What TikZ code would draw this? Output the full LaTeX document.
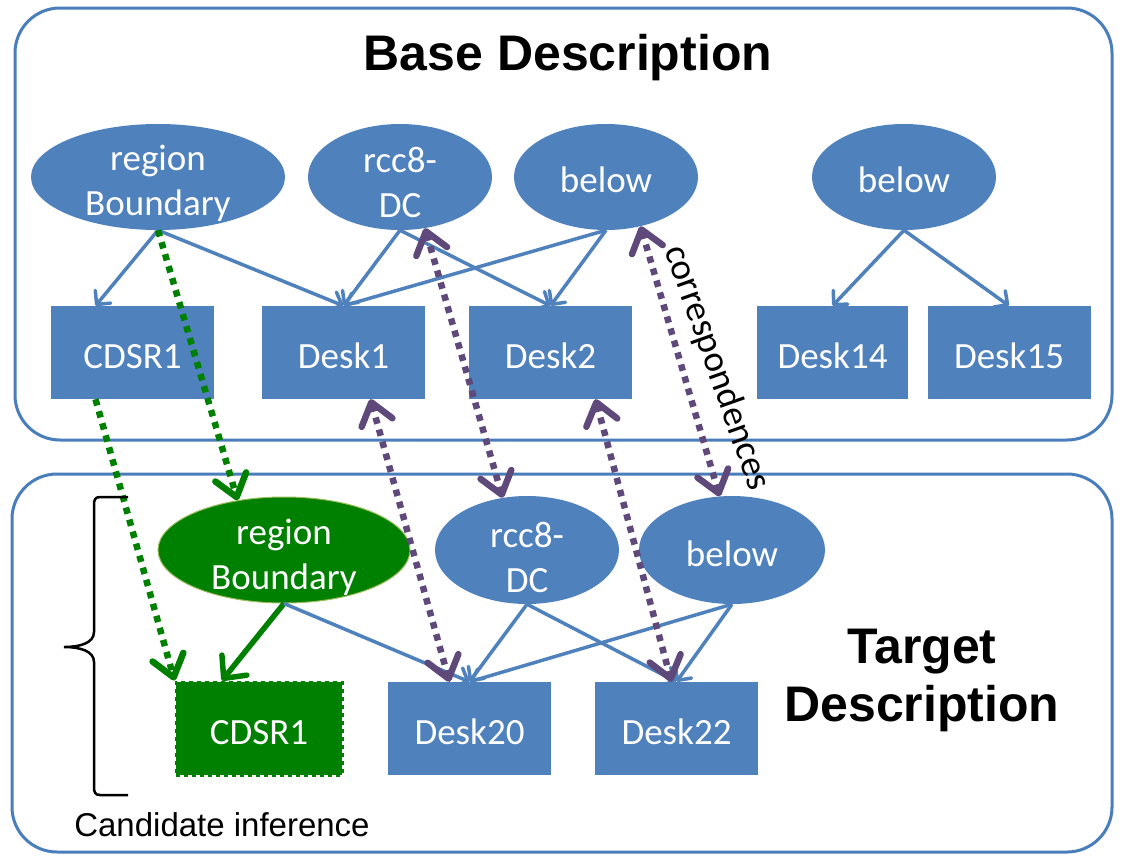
\documentclass[tikz,border=0pt]{standalone}
\usepackage{fontspec}
\setmainfont{Carlito}
\newfontfamily\arialf{Liberation Sans}
\usetikzlibrary{shapes.geometric,arrows.meta,calc}
\definecolor{nblue}{HTML}{4F81BD}
\definecolor{bline}{HTML}{4A7EBB}
\definecolor{npurple}{HTML}{5F497A}
\definecolor{ngreen}{HTML}{008000}
\definecolor{gborder}{HTML}{9BBB59}
\begin{document}
\begin{tikzpicture}[x=1pt,y=-1pt,
 ell/.style={ellipse, fill=nblue, text=white, inner sep=-8pt, minimum width=184pt, minimum height=106pt, align=center, font=\fontsize{37}{45}\selectfont},
 rbox/.style={rectangle, fill=nblue, text=white, minimum width=163pt, minimum height=93pt, inner sep=0pt, text height=31pt, text depth=0pt, font=\fontsize{37}{45}\selectfont},
 bedge/.style={draw=nblue, line width=3.5pt, -{Straight Barb[round,length=10pt,width=20pt]}},
 gedge/.style={draw=ngreen, line width=5.5pt, -{Straight Barb[round,length=17pt,width=32pt]}},
 pedge/.style={draw=npurple, line width=6.5pt, dash pattern=on 6.5pt off 6pt, {Straight Barb[round,length=21pt,width=32pt]}-{Straight Barb[round,length=21pt,width=32pt]}},
 gdot/.style={draw=ngreen, line width=6.5pt, dash pattern=on 6.5pt off 6pt, -{Straight Barb[round,length=21pt,width=32pt]}},
 frame/.style={draw=bline, line width=3pt, rounded corners=45pt},
 title/.style={font=\arialf\bfseries\fontsize{50}{58}\selectfont, align=center},
]
\useasboundingbox (0,0) rectangle (1125,865);
\draw[frame] (15,8) rectangle (1112,440);
\draw[frame] (12,474) rectangle (1112,852);

\node[title] (t1) at (568,58) {Base Description};
\node[title] (t2) at (922,680) {Target\\Description};
\node[font=\arialf\fontsize{33}{38}\selectfont] (ci) at (222,825) {Candidate inference};

% top
\node[ell, minimum width=254pt] (rb1) at (158,177) {\rule{0pt}{37pt}region\\Boundary};
\node[ell] (rc1) at (400,177) {\rule{0pt}{37pt}rcc8-\\DC};
\node[ell] (bl1) at (606,177) {\rule{0pt}{31pt}below};
\node[ell] (bl2) at (904,177) {\rule{0pt}{31pt}below};
\node[rbox] (cd1) at (132.5,352.5) {CDSR1};
\node[rbox] (d1) at (343.5,352.5) {Desk1};
\node[rbox] (d2) at (550.5,352.5) {Desk2};
\node[rbox, minimum width=151pt] (d14) at (832.5,352.5) {Desk14};
\node[rbox] (d15) at (1009,352.5) {Desk15};

% bottom
\node[ell, minimum width=252pt, fill=ngreen, draw=gborder, line width=1pt] (rb2) at (284,550) {\rule{0pt}{40pt}region\\Boundary};
\node[ell, minimum height=108pt] (rc2) at (527,550) {\rule{0pt}{40pt}rcc8-\\DC};
\node[ell, minimum width=186pt, minimum height=108pt] (bl3) at (732,550) {\rule{0pt}{33pt}below};
\node[rbox, fill=ngreen, preaction={draw=white!85!green, line width=3pt}, draw=ngreen, line width=3pt, dash pattern=on 4pt off 4pt, minimum width=166pt] (cd2) at (259,728.5) {CDSR1};
\node[rbox] (d20) at (469.5,728.5) {Desk20};
\node[rbox] (d22) at (676.5,728.5) {Desk22};

% blue edges
\draw[bedge] (rb1.south) -- ($(cd1.north)+(-37,0)$);
\draw[bedge] (rb1.south) -- (d1.north);
\draw[bedge] (rc1.south) -- (d1.north);
\draw[bedge] (rc1.south) -- (d2.north);
\draw[bedge] (bl1.south) -- (d1.north);
\draw[bedge] (bl1.south) -- (d2.north);
\draw[bedge] (bl2.south) -- (d14.north);
\draw[bedge] (bl2.south) -- (d15.north);

\draw[gedge] (rb2.south) -- ($(cd2.north)+(-37,0)$);
\draw[bedge] (rb2.south) -- (d20.north);
\draw[bedge] (rc2.south) -- (d20.north);
\draw[bedge] (rc2.south) -- (d22.north);
\draw[bedge] (bl3.south) -- (d20.north);
\draw[bedge] (bl3.south) -- (d22.north);

% correspondences
\draw[pedge] (rc1.-64) -- (rc2.115);
\draw[pedge] (bl1.-55) -- (bl3.103);
\draw[pedge] ($(d1.south)+(27,0)$) -- ($(d20.north)+(-20,0)$);
\draw[pedge] ($(d2.south)+(45,0)$) -- ($(d22.north)+(-5,0)$);

% candidate inference links
\draw[gdot] (rb1.south) -- (rb2.133);
\draw[gdot] ($(cd1.south)+(-37,0)$) -- (cd2.north west);

\node[rotate=-70.5, font=\fontsize{37}{40}\selectfont] (corr) at (717,368) {correspondences};

% brace
\draw[line width=2.5pt] (128,497) -- (100,497) .. controls (95,497) and (94,500) .. (94,505) -- (94,632) .. controls (94,643) and (80,647) .. (64,647) .. controls (80,647) and (94,651) .. (94,662) -- (94,787) .. controls (94,792) and (95,795) .. (100,795) -- (128,795);
\end{tikzpicture}
\end{document}
